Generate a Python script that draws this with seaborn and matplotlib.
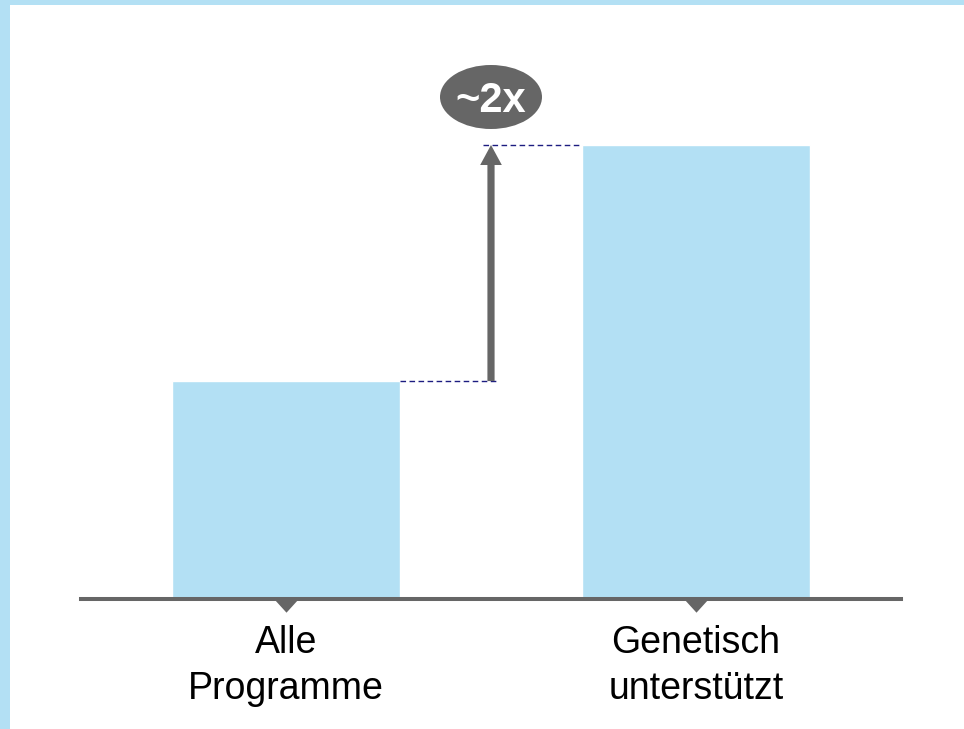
import matplotlib
matplotlib.use('Agg')
import matplotlib.pyplot as plt
import seaborn as sns
from matplotlib.patches import Ellipse, Rectangle
from matplotlib.path import Path

# ==========================================
# DATA
# ==========================================
CATEGORIES = ['Alle\nProgramme', 'Genetisch\nunterstützt']
VALUES = [48, 100]          # relative success, right bar = 100
MULTIPLIER_LABEL = '~2x'

# ==========================================
# STYLE
# ==========================================
BAR_COLOR = '#b3e0f4'
GREY = '#666666'
NAVY = '#1c1c80'
OUTPUT_FILE = 'out.png'

sns.set_theme(style="white")
plt.rcParams['font.family'] = ['Liberation Sans', 'DejaVu Sans']


def draw_chart():
    W, H = 964, 729
    fig = plt.figure(figsize=(W / 100, H / 100), dpi=100)
    fig.patch.set_facecolor('white')

    # light blue frame on the left and top edge
    fig.add_artist(Rectangle((0, 0), 10 / W, 1, transform=fig.transFigure,
                             color=BAR_COLOR, lw=0, zorder=0))
    fig.add_artist(Rectangle((0, 1 - 5 / H), 1, 5 / H, transform=fig.transFigure,
                             color=BAR_COLOR, lw=0, zorder=0))

    # axes: baseline at y=599px, value 100 at y=145px
    base_px, top_px, full_px = 599, 145, 30
    ax = fig.add_axes([81 / W, (H - base_px) / H, 820 / W, (base_px - full_px) / H])
    ax.set_facecolor('none')

    sns.barplot(x=CATEGORIES, y=VALUES, color=BAR_COLOR, saturation=1,
                width=0.555, ax=ax, zorder=1)

    ax.set_xlim(-0.5, 1.5)
    ax.set_ylim(0, (base_px - full_px) / (base_px - top_px) * max(VALUES))

    # axis cosmetics
    for side in ['left', 'right', 'top']:
        ax.spines[side].set_visible(False)
    ax.spines['bottom'].set_color(GREY)
    ax.spines['bottom'].set_linewidth(2.9)
    ax.spines['bottom'].set_zorder(3)
    ax.set_yticks([])
    ax.set_ylabel('')
    ax.set_xlabel('')
    ax.tick_params(axis='x', length=0, pad=19, labelsize=27, labelcolor='black')
    for lbl in ax.get_xticklabels():
        lbl.set_linespacing(1.35)

    # little triangles under each bar
    tri = Path([(-1, 0), (1, 0), (0, -1.1), (-1, 0)])
    ax.plot(range(len(CATEGORIES)), [0] * len(CATEGORIES), linestyle='none',
            marker=tri, markersize=19, color=GREY, markeredgewidth=0,
            clip_on=False, zorder=4)

    # dashed guides from bar tops to the arrow
    low, high = VALUES
    half = 0.555 / 2
    ax.hlines(low, half, 0.517, colors=NAVY, linestyles=(0, (4, 2.5)), lw=1, zorder=2)
    ax.hlines(high, 0.48, 1 - half, colors=NAVY, linestyles=(0, (4, 2.5)), lw=1, zorder=2)

    # growth arrow
    ax.annotate('', xy=(0.5, high), xytext=(0.5, low),
                arrowprops=dict(arrowstyle='simple,head_length=1.2,head_width=1.3,tail_width=0.43',
                                color=GREY, lw=0, shrinkA=0, shrinkB=0),
                zorder=3)

    # ~2x bubble
    px_per_unit = (base_px - top_px) / max(VALUES)
    cy = (base_px - 97) / px_per_unit
    ax.add_patch(Ellipse((0.5, cy), 102 / 410, 64 / px_per_unit, color=GREY,
                         lw=0, clip_on=False, zorder=5))
    ax.text(0.5, cy, MULTIPLIER_LABEL, color='white', fontsize=30, fontweight='bold',
            ha='center', va='center_baseline', zorder=6, clip_on=False)

    fig.savefig(OUTPUT_FILE, dpi=100)
    print("Saved", OUTPUT_FILE)


if __name__ == "__main__":
    draw_chart()
